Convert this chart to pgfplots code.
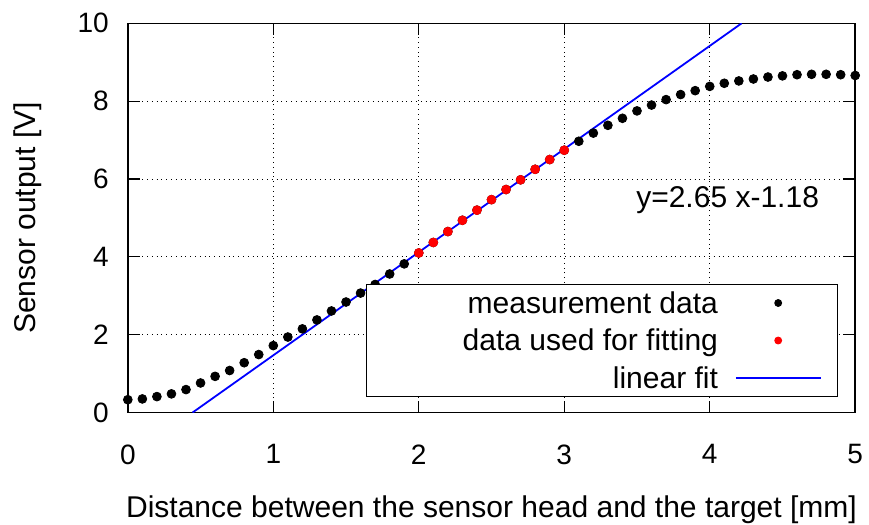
\documentclass[border=0pt]{standalone}
\usepackage{fontspec}
\setmainfont{Liberation Sans}
\usepackage{pgfplots}
\pgfplotsset{compat=1.18}
\begin{document}
\fontsize{15}{18}\selectfont
\begin{tikzpicture}
\begin{axis}[
  scale only axis,
  width=363.5pt, height=194.5pt,
  xmin=0, xmax=5, ymin=0, ymax=10,
  xtick={0,1,2,3,4,5}, ytick={0,2,4,6,8,10},
  /pgf/number format/assume math mode=true,
  ticklabel style={font=\fontsize{14}{17}\selectfont},
  tick align=inside, major tick length=6pt,
  axis line style={line width=0.75pt},
  tick style={black, line width=0.6pt},
  grid=major,
  major grid style={black, dotted, line width=0.5pt},
  xticklabel style={yshift=-10.8pt, inner xsep=3pt},
  yticklabel style={xshift=-4.3pt, inner ysep=6.7pt},
  xlabel={Distance between the sensor head and the target [mm]},
  ylabel={Sensor output [V]},
  xlabel style={at={([yshift=-52.5pt]axis description cs:0.5,0)}, anchor=base, inner ysep=0.5pt},
  ylabel style={at={([xshift=-46pt]axis description cs:0,0.5)}, anchor=base, inner ysep=7pt},
  legend plot pos=right,
  legend style={at={(0.9757,0.0393)}, anchor=south east, draw=black, line width=0.5pt,
    inner xsep=7.8pt, inner ysep=0.35pt, column sep=8.5pt, row sep=0.75pt,
    cells={anchor=east},
    nodes={inner xsep=0pt, inner ysep=2pt, text height=12pt, text depth=2pt}},
  clip=true,
]
\addplot[only marks, mark=*, mark size=2.2pt, black,
  legend image code/.code={\path[draw=none,fill=none] (0pt,0pt) -- (42.3pt,0pt); \fill[black] (21.15pt,0pt) circle (1.7pt);}]
coordinates {
(0.0,0.33) (0.1,0.35) (0.2,0.41) (0.3,0.48) (0.4,0.59) (0.5,0.76) (0.6,0.93) (0.7,1.08) (0.8,1.28) (0.9,1.49)
(1.0,1.72) (1.1,1.94) (1.2,2.15) (1.3,2.38) (1.4,2.61) (1.5,2.84) (1.6,3.07) (1.7,3.29) (1.8,3.56) (1.9,3.82)
(2.0,4.10) (2.1,4.37) (2.2,4.65) (2.3,4.94) (2.4,5.20) (2.5,5.47) (2.6,5.73) (2.7,5.98) (2.8,6.25) (2.9,6.50)
(3.0,6.74) (3.1,6.97) (3.2,7.18) (3.3,7.38) (3.4,7.56) (3.5,7.75) (3.6,7.90) (3.7,8.04) (3.8,8.17) (3.9,8.27)
(4.0,8.38) (4.1,8.46) (4.2,8.52) (4.3,8.57) (4.4,8.62) (4.5,8.65) (4.6,8.68) (4.7,8.69) (4.8,8.69) (4.9,8.68)
(5.0,8.66)
};
\addlegendentry{measurement data}
\addplot[only marks, mark=*, mark size=2.2pt, red, mark options={draw=red, fill=red},
  legend image code/.code={\path[draw=none,fill=none] (0pt,0pt) -- (42.3pt,0pt); \fill[red] (21.15pt,0pt) circle (1.7pt);}]
coordinates {
(2.0,4.10) (2.1,4.37) (2.2,4.65) (2.3,4.94) (2.4,5.20) (2.5,5.47) (2.6,5.73) (2.7,5.98) (2.8,6.25) (2.9,6.50) (3.0,6.74)
};
\addlegendentry{\hspace*{40.4pt}data used for fitting}
\addplot[blue, line width=0.9pt, no marks,
  legend image code/.code={\draw[blue, line width=0.9pt] (0pt,0pt) -- (42.3pt,0pt);}]
coordinates {(0.445,0) (4.219,10)};
\addlegendentry{linear fit}
\node[anchor=base] at (axis cs:4.123,5.27) {y=2.65 x-1.18};
\end{axis}
\end{tikzpicture}
\end{document}
